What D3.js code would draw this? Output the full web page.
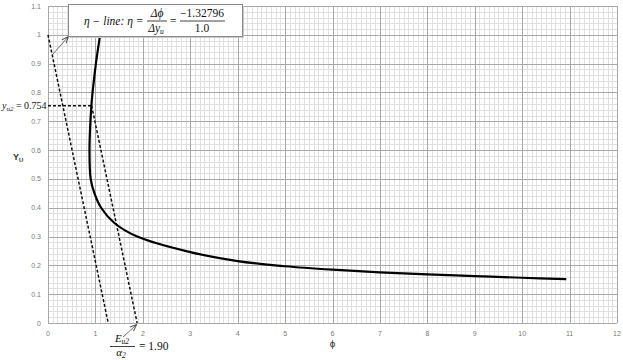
<!DOCTYPE html>
<html>
<head>
<meta charset="utf-8">
<script src="https://cdn.jsdelivr.net/npm/d3@7"></script>
<style>
  body { margin: 0; background: #fff; }
  svg { display: block; }
  .tick-label { font-family: "Liberation Sans", sans-serif; font-size: 7px; fill: #7a7a7a; }
  .math { font-family: "Liberation Serif", "DejaVu Serif", serif; font-style: italic; fill: #111; }
  .num { font-family: "Liberation Serif", "DejaVu Serif", serif; font-style: normal; fill: #111; }
</style>
</head>
<body>
<svg id="chart" width="623" height="360"></svg>
<script>
// axis ticks
const xTicks = d3.range(0, 13);
const yTicks = d3.range(0, 12).map(i => +(i / 10).toFixed(1));

// main curve (phi, y_u)
const curvePhi = [1.10, 1.01, 0.94, 0.915, 0.895, 0.875, 0.90, 0.98, 1.12, 1.40, 1.88, 3.0, 4.0, 5.0, 6.0, 7.0, 8.0, 9.0, 10.0, 10.93];
const curveY   = [1.00, 0.90, 0.80, 0.754, 0.70, 0.60, 0.50, 0.45, 0.40, 0.347, 0.30, 0.246, 0.215, 0.197, 0.185, 0.176, 0.169, 0.163, 0.157, 0.152];

// eta line and its parallel through y_u2
const etaLinePhi = [0, 1.27];
const etaLineY = [1.0, 0];
const parallelPhi = [0.92, 1.88];
const parallelY = [0.754, 0];
const yu2 = 0.754;

const svg = d3.select("#chart");
const x = d3.scaleLinear().domain([0, 12]).range([48, 617]);
const y = d3.scaleLinear().domain([0, 1.1]).range([323, 6]);

// minor grid
const grid = svg.append("g").attr("shape-rendering", "crispEdges");
grid.selectAll(".vminor")
  .data(d3.range(0, 121).filter(i => i % 10 !== 0).map(i => i / 10))
  .enter().append("line")
  .attr("x1", d => Math.round(x(d)) + 0.5).attr("x2", d => Math.round(x(d)) + 0.5)
  .attr("y1", y(1.1)).attr("y2", y(0))
  .attr("stroke", "#e0e0e0").attr("stroke-width", 1);
grid.selectAll(".hminor")
  .data(d3.range(0, 56).filter(i => i % 5 !== 0).map(i => i / 50))
  .enter().append("line")
  .attr("x1", x(0)).attr("x2", x(12))
  .attr("y1", d => Math.round(y(d)) + 0.5).attr("y2", d => Math.round(y(d)) + 0.5)
  .attr("stroke", "#e0e0e0").attr("stroke-width", 1);

// major grid
grid.selectAll(".vmajor").data(xTicks).enter().append("line")
  .attr("x1", d => Math.round(x(d)) + 0.5).attr("x2", d => Math.round(x(d)) + 0.5)
  .attr("y1", y(1.1)).attr("y2", y(0))
  .attr("stroke", "#a8a8a8");
grid.selectAll(".hmajor").data(yTicks).enter().append("line")
  .attr("x1", x(0)).attr("x2", x(12))
  .attr("y1", d => Math.round(y(d)) + 0.5).attr("y2", d => Math.round(y(d)) + 0.5)
  .attr("stroke", "#a8a8a8");

// tick labels
svg.selectAll(".xt").data(xTicks).enter().append("text")
  .attr("class", "tick-label")
  .attr("x", d => x(d)).attr("y", 336)
  .attr("text-anchor", "middle")
  .text(d => d);
svg.selectAll(".yt").data(yTicks).enter().append("text")
  .attr("class", "tick-label")
  .attr("x", 41).attr("y", d => y(d) + 2.5)
  .attr("text-anchor", "end")
  .text(d => d);

// axis titles
svg.append("text")
  .attr("x", 13).attr("y", 160)
  .attr("font-family", "Liberation Sans, sans-serif").attr("font-weight", "bold")
  .attr("font-size", 9).attr("fill", "#333")
  .text("Y").append("tspan").attr("font-size", 6).attr("dy", 2).text("U");
svg.append("text")
  .attr("x", x(6)).attr("y", 347)
  .attr("text-anchor", "middle")
  .attr("font-family", "DejaVu Sans, sans-serif").attr("font-size", 9).attr("fill", "#333")
  .text("ϕ");

const line = d3.line().x(d => x(d[0])).y(d => y(d[1]));

// dashed lines
const dashed = svg.append("g")
  .attr("fill", "none").attr("stroke", "#111")
  .attr("stroke-width", 1.5).attr("stroke-dasharray", "3,2");
dashed.append("path").attr("d", line(d3.zip(etaLinePhi, etaLineY)));
dashed.append("path").attr("d", line(d3.zip(parallelPhi, parallelY)));
dashed.append("path").attr("d", line([[0, yu2], [parallelPhi[0], yu2]]));

// main curve
svg.append("path")
  .attr("d", line.curve(d3.curveCatmullRom)(d3.zip(curvePhi, curveY)))
  .attr("fill", "none").attr("stroke", "#000").attr("stroke-width", 2.2);

// y_u2 label
const yl = svg.append("text").attr("class", "math")
  .attr("x", 2).attr("y", y(yu2) + 3).attr("font-size", 10);
yl.append("tspan").text("y");
yl.append("tspan").attr("font-size", 7).attr("dy", 2).text("u2");
yl.append("tspan").attr("class", "num").attr("dy", -2).text(" = 0.754");

// arrows
const defs = svg.append("defs");
defs.append("marker")
  .attr("id", "arrow")
  .attr("viewBox", "0 -4 10 8")
  .attr("refX", 9).attr("refY", 0)
  .attr("markerWidth", 7).attr("markerHeight", 7)
  .attr("markerUnits", "userSpaceOnUse")
  .attr("orient", "auto")
  .append("path").attr("d", "M0,-4L10,0L0,4").attr("fill", "none").attr("stroke", "#333").attr("stroke-width", 1.2);

svg.append("line")
  .attr("x1", 53).attr("y1", 54).attr("x2", 68).attr("y2", 37)
  .attr("stroke", "#444").attr("stroke-width", 0.8).attr("marker-end", "url(#arrow)");
svg.append("line")
  .attr("x1", 123).attr("y1", 337).attr("x2", x(parallelPhi[1]) - 1).attr("y2", 325)
  .attr("stroke", "#444").attr("stroke-width", 0.8).attr("marker-end", "url(#arrow)");

// eta annotation box
svg.append("rect")
  .attr("x", 70).attr("y", 6).attr("width", 174).attr("height", 32)
  .attr("fill", "#c8c8c8");
svg.append("rect")
  .attr("x", 68.5).attr("y", 4.5).attr("width", 174).attr("height", 32)
  .attr("fill", "#fff").attr("stroke", "#8a8a8a");

const box = svg.append("g");
box.append("text").attr("class", "math").attr("font-size", 11.5)
  .attr("x", 84).attr("y", 24.5).text("η − line: η =");
box.append("text").attr("class", "math").attr("font-size", 11.5)
  .attr("x", 157).attr("y", 17).attr("text-anchor", "middle").text("Δϕ");
const den = box.append("text").attr("class", "math").attr("font-size", 11.5)
  .attr("x", 156).attr("y", 32).attr("text-anchor", "middle");
den.append("tspan").text("Δy");
den.append("tspan").attr("font-size", 7.5).attr("dy", 2).text("u");
box.append("line").attr("x1", 147).attr("x2", 167).attr("y1", 21).attr("y2", 21)
  .attr("stroke", "#111").attr("stroke-width", 0.8);
box.append("text").attr("class", "num").attr("font-size", 11.5)
  .attr("x", 170).attr("y", 24.5).text("=");
box.append("text").attr("class", "num").attr("font-size", 11.5)
  .attr("x", 202).attr("y", 17).attr("text-anchor", "middle").text("−1.32796");
box.append("text").attr("class", "num").attr("font-size", 11.5)
  .attr("x", 202).attr("y", 32).attr("text-anchor", "middle").text("1.0");
box.append("line").attr("x1", 180).attr("x2", 225).attr("y1", 21).attr("y2", 21)
  .attr("stroke", "#111").attr("stroke-width", 0.8);

// E_u2 / alpha_2 annotation
const ea = svg.append("g");
const num = ea.append("text").attr("class", "math").attr("font-size", 11)
  .attr("x", 122).attr("y", 342).attr("text-anchor", "middle");
num.append("tspan").text("E");
num.append("tspan").attr("font-size", 7.5).attr("dy", 2).text("u2");
ea.append("line").attr("x1", 110).attr("x2", 135).attr("y1", 346.5).attr("y2", 346.5)
  .attr("stroke", "#111").attr("stroke-width", 0.8);
const dn = ea.append("text").attr("class", "math").attr("font-size", 11)
  .attr("x", 121).attr("y", 356).attr("text-anchor", "middle");
dn.append("tspan").text("α");
dn.append("tspan").attr("font-size", 7.5).attr("dy", 2).text("2");
ea.append("text").attr("class", "num").attr("font-size", 11.5)
  .attr("x", 139).attr("y", 350).text("= 1.90");
</script>
</body>
</html>
